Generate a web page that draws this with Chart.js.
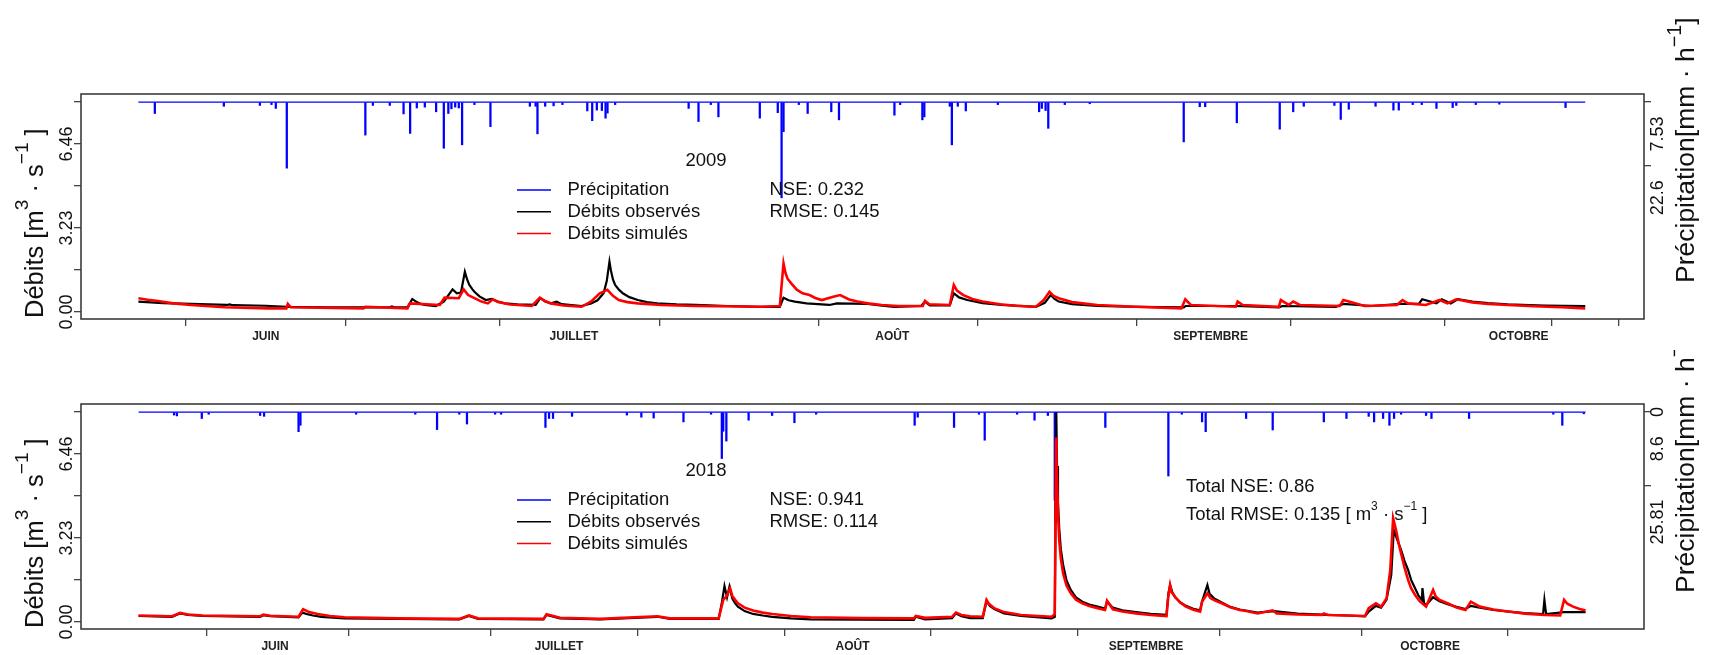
<!DOCTYPE html>
<html>
<head>
<meta charset="utf-8">
<script src="https://cdn.jsdelivr.net/npm/chart.js@4.4.1/dist/chart.umd.min.js"></script>
<style>
  html, body { margin: 0; padding: 0; background: #fff; }
  body { width: 1712px; height: 655px; position: relative; overflow: hidden; }
  canvas { position: absolute; left: 0; }
  #c2009 { top: 0; z-index: 2; }
  #c2018 { top: 350px; z-index: 1; }
</style>
</head>
<body>
<canvas id="c2009" width="1712" height="345"></canvas>
<canvas id="c2018" width="1712" height="305"></canvas>
<script>
// ---- x axis: day of year, month starts labelled, mid-month ticks unlabelled ----
const monthDays   = [152, 182, 213, 244, 274];
const monthLabels = ['JUIN', 'JUILLET', 'AOÛT', 'SEPTEMBRE', 'OCTOBRE'];
const xTicks2009  = [152, 167.6, 182, 198.6, 213, 229.6, 244, 259.5, 274, 280.48];
const xTicks2018  = [137.58, 152, 167.6, 182, 198.6, 213, 229.6, 244, 259.5, 274, 290.43];

// ---- discharge axis (m3/s) ----
const qTicks  = [0, 1.615, 3.23, 4.845, 6.46, 8.075];
const qLabels = [0, 3.23, 6.46];

// ---- precipitation axis (mm/h, reversed) ----
const pTicks2009  = [0, 15.06];
const pLabels2009 = [7.53, 22.6];
const pTicks2018  = [0, 17.2];
const pLabels2018 = [0, 8.6, 25.81];

// ---- scores ----
const stats2009 = { nse: 0.232, rmse: 0.145 };
const stats2018 = { nse: 0.941, rmse: 0.114 };
const statsTotal = { nse: 0.86, rmse: 0.135 };

// ---- 2009 series: [day of year, value] ----
const precip2009 = [
  [141.19,2.7],[147.91,1.0],[151.42,0.8],[152.55,0.6],[152.97,1.5],[154.04,15.6],[161.69,7.8],[162.42,0.8],
  [164.07,0.8],[165.41,2.8],[166.05,7.4],[166.70,1.4],[167.48,1.2],[168.58,2.3],[169.33,10.9],[169.77,2.7],
  [170.07,1.6],[170.44,1.2],[170.79,1.4],[171.11,10.1],[172.31,0.6],[173.87,5.8],[177.71,1.0],[178.27,1.0],
  [178.45,7.5],[179.20,1.0],[180.02,0.9],[180.88,0.6],[183.30,2.1],[183.78,4.4],[184.23,1.9],[184.72,2.0],
  [185.08,3.8],[185.27,2.6],[186.01,0.6],[193.17,1.5],[194.13,4.6],[195.33,0.6],[196.07,3.5],[200.10,3.8],
  [201.85,2.5],[202.22,22.6],[202.41,7.0],[203.90,0.6],[204.76,2.7],[207.06,2.3],[207.81,4.2],[213.21,3.1],
  [213.77,0.6],[215.93,4.2],[216.12,3.5],[218.60,1.0],[218.80,10.1],[219.38,1.0],[220.16,2.1],[223.28,0.6],
  [227.30,2.3],[227.56,1.5],[227.93,2.0],[228.19,6.2],[229.80,0.6],[232.23,0.4],[241.38,9.4],[242.94,1.1],
  [243.47,1.1],[246.55,4.9],[250.73,6.4],[252.04,2.3],[253.07,1.0],[256.05,0.8],[256.67,4.1],[257.45,1.7],
  [260.06,1.0],[261.80,1.9],[262.32,1.9],[263.68,0.6],[264.56,0.6],[265.99,1.5],[267.57,1.3],[267.92,0.8],
  [269.82,0.6],[272.11,0.5],[278.56,1.3]
];
const obs2009 = [
  [139.59,0.40],[142.0,0.34],[144.7,0.31],[148.2,0.27],[148.46,0.29],[148.8,0.26],[152.0,0.24],[154.04,0.20],
  [158.0,0.18],[164.07,0.18],[164.27,0.21],[164.5,0.18],[165.79,0.18],[166.26,0.50],[166.7,0.38],[167.1,0.31],
  [167.48,0.27],[168.55,0.23],[169.33,0.40],[170.18,0.87],[170.60,0.72],[171.0,0.75],[171.38,1.55],[171.6,1.25],
  [171.8,1.05],[172.1,0.88],[172.31,0.78],[172.8,0.60],[173.42,0.46],[173.99,0.50],[174.6,0.40],[175.27,0.33],
  [176.5,0.29],[178.27,0.27],[178.72,0.53],[179.2,0.40],[179.75,0.33],[180.32,0.40],[180.8,0.30],[182.74,0.23],
  [183.68,0.33],[184.3,0.45],[184.89,0.72],[185.2,1.20],[185.46,1.94],[185.6,1.60],[185.8,1.25],[186.01,1.04],
  [186.4,0.85],[186.76,0.72],[187.4,0.57],[188.22,0.46],[189.1,0.38],[190.11,0.33],[192.0,0.29],[193.84,0.27],
  [197.0,0.23],[200.17,0.20],[202.05,0.20],[202.41,0.55],[202.9,0.45],[203.51,0.40],[204.65,0.33],[206.88,0.27],
  [207.60,0.33],[210.61,0.31],[212.0,0.24],[213.21,0.20],[215.82,0.23],[216.17,0.40],[216.65,0.25],[218.60,0.25],
  [218.99,0.72],[219.5,0.56],[220.30,0.46],[221.8,0.34],[223.65,0.27],[226.98,0.20],[227.85,0.35],[228.42,0.65],
  [228.8,0.50],[229.21,0.40],[230.5,0.30],[232.96,0.23],[237.0,0.20],[241.38,0.18],[241.56,0.23],[246.45,0.23],
  [250.64,0.18],[250.99,0.23],[256.19,0.20],[256.92,0.31],[259.69,0.23],[262.51,0.31],[264.27,0.31],[264.60,0.49],
  [265.99,0.33],[266.51,0.49],[267.38,0.33],[268.06,0.49],[269.49,0.40],[271.0,0.34],[272.93,0.29],[276.5,0.25],
  [280.48,0.23]
];
const sim2009 = [
  [139.59,0.53],[140.5,0.47],[141.5,0.42],[143.0,0.33],[144.70,0.27],[148.0,0.18],[152.19,0.14],[154.0,0.14],
  [154.14,0.31],[154.43,0.18],[161.50,0.14],[161.69,0.20],[165.79,0.14],[166.02,0.33],[168.94,0.27],[169.40,0.55],
  [170.79,0.53],[171.26,0.87],[171.7,0.65],[172.31,0.53],[173.0,0.40],[173.62,0.33],[174.10,0.49],[174.6,0.38],
  [175.8,0.29],[177.90,0.23],[178.68,0.55],[179.2,0.42],[179.75,0.33],[181.0,0.25],[182.74,0.20],[183.65,0.40],
  [184.52,0.72],[185.26,0.85],[185.8,0.62],[186.37,0.46],[187.2,0.38],[188.22,0.33],[190.5,0.27],[193.84,0.23],
  [200.17,0.20],[202.05,0.23],[202.41,1.87],[202.6,1.50],[202.8,1.28],[203.16,1.10],[203.7,0.86],[204.27,0.72],
  [204.94,0.65],[205.5,0.54],[206.14,0.46],[207.25,0.59],[207.92,0.65],[208.8,0.48],[209.6,0.40],[210.61,0.33],
  [212.0,0.27],[213.58,0.23],[215.97,0.23],[216.19,0.43],[216.6,0.30],[218.60,0.27],[218.99,1.04],[219.3,0.82],
  [219.92,0.65],[220.8,0.50],[221.78,0.40],[223.5,0.30],[225.0,0.24],[226.98,0.20],[227.75,0.46],[228.31,0.78],
  [228.7,0.62],[229.21,0.53],[230.5,0.38],[232.96,0.27],[236.69,0.20],[241.16,0.14],[241.53,0.49],[242.07,0.27],
  [246.45,0.20],[246.63,0.40],[247.13,0.27],[250.64,0.20],[250.83,0.46],[251.61,0.27],[252.04,0.40],[252.69,0.27],
  [256.58,0.23],[256.92,0.46],[257.46,0.40],[259.01,0.23],[262.13,0.27],[262.68,0.46],[263.20,0.33],[264.95,0.27],
  [266.32,0.46],[267.05,0.33],[267.92,0.49],[269.49,0.37],[271.0,0.31],[272.93,0.27],[275.5,0.22],[278.19,0.18],
  [280.48,0.14]
];

// ---- 2018 series: [day of year, value] ----
const precip2018 = [
  [141.33,0.7],[141.63,0.9],[144.26,1.5],[144.99,0.5],[150.42,0.8],[150.84,1.0],[154.48,4.6],[154.68,3.1],
  [160.56,0.5],[166.81,0.5],[169.11,4.1],[171.46,0.5],[172.27,2.8],[175.24,0.5],[175.87,0.5],[180.56,3.6],
  [180.94,1.5],[181.36,1.5],[183.37,1.0],[189.16,0.7],[190.69,1.2],[191.99,1.4],[195.14,2.3],[198.05,0.5],
  [199.19,10.9],[199.34,4.5],[199.67,6.8],[202.02,1.9],[204.50,0.8],[206.86,2.5],[209.15,0.5],[219.56,3.1],
  [219.88,1.2],[223.72,3.6],[226.35,0.5],[226.96,6.6],[230.38,0.5],[232.22,1.9],[233.63,0.8],[234.36,20.7],
  [234.43,25.81],[239.70,3.6],[246.36,15.0],[247.78,0.5],[249.92,2.3],[250.30,4.6],[254.57,1.5],[257.38,4.2],
  [262.78,2.3],[265.17,1.5],[267.52,1.0],[268.09,2.3],[269.04,1.5],[269.71,3.1],[270.20,1.5],[270.94,0.5],
  [273.58,0.8],[274.15,1.5],[278.12,1.5],[287.02,0.5],[287.97,3.1],[290.24,0.4]
];
const obs2018 = [
  [137.58,0.23],[141.12,0.20],[141.5,0.26],[141.97,0.33],[142.8,0.27],[144.37,0.23],[150.42,0.20],[150.76,0.26],
  [151.5,0.22],[154.48,0.18],[154.88,0.36],[155.4,0.30],[156.0,0.25],[156.91,0.20],[159.33,0.14],[165.0,0.12],
  [171.46,0.10],[172.47,0.23],[173.44,0.12],[180.35,0.10],[180.68,0.27],[182.10,0.14],[186.33,0.10],[192.39,0.20],
  [193.72,0.12],[198.86,0.12],[199.22,0.80],[199.47,1.38],[199.74,0.95],[200.00,1.36],[200.3,0.90],[200.6,0.72],
  [200.89,0.59],[201.6,0.42],[202.49,0.31],[203.5,0.25],[204.52,0.20],[206.5,0.14],[208.57,0.10],[214.0,0.09],
  [219.48,0.08],[219.68,0.20],[220.66,0.10],[223.51,0.15],[223.92,0.33],[224.5,0.22],[225.41,0.15],[226.75,0.15],
  [227.15,0.80],[227.5,0.62],[227.97,0.50],[229.0,0.33],[230.80,0.23],[234.03,0.14],[234.36,0.20],[234.52,8.07],
  [234.6,6.00],[234.7,4.60],[234.83,3.60],[235.0,2.80],[235.24,2.20],[235.6,1.60],[236.05,1.23],[236.6,0.95],
  [237.27,0.78],[238.0,0.67],[238.88,0.59],[239.67,0.52],[239.88,0.78],[240.50,0.55],[241.5,0.45],[242.93,0.38],
  [244.5,0.31],[246.16,0.27],[246.36,1.10],[246.54,1.42],[246.8,1.12],[247.07,0.95],[247.6,0.76],[248.21,0.62],
  [249.0,0.51],[249.71,0.45],[249.92,0.80],[250.48,1.42],[250.7,1.10],[251.2,0.90],[252.00,0.75],[252.9,0.58],
  [253.89,0.48],[255.78,0.36],[257.50,0.42],[260.0,0.32],[262.59,0.28],[265.23,0.25],[267.13,0.22],[267.52,0.40],
  [268.28,0.62],[268.83,0.55],[269.4,0.85],[269.9,1.80],[270.17,3.54],[270.5,3.20],[270.94,2.77],[271.3,2.35],
  [271.68,2.00],[272.0,1.62],[272.42,1.30],[272.8,1.00],[273.13,0.85],[273.20,1.30],[273.37,0.72],[273.58,0.65],
  [274.32,0.95],[275.0,0.80],[275.85,0.68],[276.8,0.58],[277.74,0.50],[278.31,0.62],[279.25,0.55],[280.7,0.46],
  [282.28,0.40],[284.0,0.34],[285.94,0.30],[286.08,0.85],[286.26,0.30],[288.16,0.38],[290.43,0.38]
];
const sim2018 = [
  [137.58,0.25],[141.12,0.22],[141.5,0.28],[141.97,0.35],[142.8,0.29],[144.37,0.25],[150.42,0.22],[150.76,0.28],
  [151.5,0.24],[154.48,0.20],[154.96,0.49],[155.6,0.38],[156.50,0.31],[157.8,0.23],[159.33,0.18],[165.0,0.14],
  [171.46,0.12],[172.47,0.25],[173.44,0.14],[180.35,0.12],[180.68,0.30],[182.10,0.16],[186.33,0.12],[192.39,0.22],
  [193.72,0.14],[198.86,0.14],[199.34,0.85],[199.7,1.00],[200.06,1.30],[200.3,1.00],[200.6,0.85],[200.89,0.72],
  [201.6,0.55],[202.49,0.44],[203.5,0.36],[204.52,0.31],[206.5,0.23],[208.57,0.18],[214.0,0.15],[219.48,0.14],
  [219.68,0.23],[220.66,0.16],[223.51,0.20],[223.92,0.36],[224.5,0.27],[225.41,0.22],[226.75,0.20],[227.15,0.85],
  [227.4,0.70],[227.97,0.53],[229.0,0.38],[230.80,0.27],[234.03,0.20],[234.36,0.30],[234.50,7.10],[234.55,6.30],
  [234.63,5.08],[234.72,4.00],[234.83,3.15],[235.0,2.45],[235.24,1.87],[235.6,1.40],[236.05,1.10],[236.6,0.86],
  [237.27,0.72],[238.0,0.61],[238.88,0.53],[239.67,0.46],[239.88,0.82],[240.50,0.49],[241.5,0.40],[242.93,0.33],
  [244.5,0.27],[246.16,0.23],[246.36,1.00],[246.54,1.42],[246.7,1.15],[247.07,0.97],[247.6,0.75],[248.21,0.59],
  [249.0,0.47],[249.71,0.40],[249.92,0.78],[250.48,1.10],[250.8,0.92],[251.3,0.82],[252.00,0.72],[252.9,0.57],
  [253.89,0.46],[254.57,0.42],[255.78,0.33],[257.38,0.45],[257.8,0.33],[260.0,0.29],[262.59,0.27],[262.78,0.33],
  [263.2,0.27],[265.23,0.25],[267.13,0.23],[267.52,0.53],[268.28,0.72],[268.83,0.59],[269.4,0.90],[269.8,2.00],
  [270.10,3.99],[270.3,3.70],[270.48,3.41],[270.7,3.00],[270.94,2.64],[271.3,2.10],[271.68,1.62],[272.0,1.30],
  [272.42,1.04],[272.9,0.80],[273.58,0.59],[274.32,1.23],[274.6,0.98],[275.0,0.85],[275.85,0.72],[276.8,0.56],
  [277.74,0.46],[278.31,0.78],[279.25,0.59],[280.7,0.48],[282.28,0.40],[284.0,0.32],[286.08,0.27],[287.74,0.25],
  [288.16,0.85],[288.5,0.70],[289.11,0.59],[289.8,0.50],[290.43,0.44]
];

// ---- drawing helpers ----
const FONT = '"Liberation Sans", Arial, Helvetica, sans-serif';
const INK = '#111';

// text with raised superscript pieces: parts = [[text, isSup], ...]
function drawRich(ctx, parts, x, y, size, angle, supScale, supRise) {
  ctx.save();
  ctx.translate(x, y);
  ctx.rotate(angle);
  ctx.textAlign = 'left';
  ctx.textBaseline = 'alphabetic';
  let cx = 0;
  for (const [t, sup] of parts) {
    const s = sup ? size * supScale : size;
    ctx.font = s + 'px ' + FONT;
    ctx.fillText(t, cx, sup ? -size * supRise : 0);
    cx += ctx.measureText(t).width;
  }
  ctx.restore();
}

function drawRotated(ctx, text, x, y, font) {
  ctx.save();
  ctx.translate(x, y);
  ctx.rotate(-Math.PI / 2);
  ctx.font = font;
  ctx.textAlign = 'center';
  ctx.textBaseline = 'alphabetic';
  ctx.fillText(text, 0, 0);
  ctx.restore();
}

const qTitle = [['Débits [m', false], ['3', true], [' · s', false], ['−1', true], [' ]', false]];
const pTitle = [['Précipitation[mm · h', false], ['−1', true], [']', false]];

// frame, rotated axis labels, legend and score annotations
const panelDecor = {
  id: 'panelDecor',
  afterDraw(chart, args, o) {
    const ctx = chart.ctx;
    const a = chart.chartArea;
    const yQ = chart.scales.yQ, yP = chart.scales.yP;
    ctx.save();
    // plot frame
    ctx.strokeStyle = '#3c3c3c';
    ctx.lineWidth = 1.6;
    ctx.strokeRect(a.left, a.top, a.right - a.left, a.bottom - a.top);

    ctx.fillStyle = INK;
    const tickFont = '18px ' + FONT;
    for (const v of o.qLabels) drawRotated(ctx, v.toFixed(2), a.left - 9, yQ.getPixelForValue(v), tickFont);
    for (const v of o.pLabels) drawRotated(ctx, String(v), a.right + 19, yP.getPixelForValue(v), tickFont);

    // axis titles
    drawRich(ctx, qTitle, 43, a.bottom - 1, 25.5, -Math.PI / 2, 0.75, 0.6);
    drawRich(ctx, pTitle, a.right + 50, a.bottom - 36, 26.5, -Math.PI / 2, 0.75, 0.5);

    // year
    ctx.font = '18.5px ' + FONT;
    ctx.textBaseline = 'middle';
    ctx.textAlign = 'center';
    ctx.fillText(o.year, a.left + 625, a.top + 67);

    // legend built from the dataset labels and colours
    ctx.textAlign = 'left';
    const items = chart.data.datasets.filter(d => d.label);
    items.forEach((d, i) => {
      const y = a.top + 96 + i * 21.8;
      ctx.strokeStyle = d.legendColor;
      ctx.lineWidth = 1.5;
      ctx.beginPath();
      ctx.moveTo(a.left + 436, y);
      ctx.lineTo(a.left + 470, y);
      ctx.stroke();
      ctx.fillStyle = INK;
      ctx.fillText(d.label, a.left + 486.5, y);
    });

    // scores
    ctx.fillText('NSE: ' + o.stats.nse, a.left + 688.5, a.top + 96);
    ctx.fillText('RMSE: ' + o.stats.rmse, a.left + 688.5, a.top + 96 + 21.8);

    if (o.total) {
      ctx.fillText('Total NSE: ' + o.total.nse, a.left + 1105, a.top + 83);
      drawRich(ctx, [['Total RMSE: ' + o.total.rmse + ' [ m', false], ['3', true], [' · s', false], ['−1', true], [' ]', false]],
        a.left + 1105, a.top + 115.5, 18.5, 0, 0.65, 0.5);
    }
    ctx.restore();
  }
};

function makePanel(id, cfg) {
  const start = cfg.obs[0][0], end = cfg.obs[cfg.obs.length - 1][0];
  const pts = arr => arr.map(([x, y]) => ({ x, y }));
  const axisTickFont = { family: FONT, size: 12, weight: 'bold' };
  return new Chart(document.getElementById(id), {
    type: 'line',
    data: {
      datasets: [
        { type: 'bar', label: 'Précipitation', legendColor: '#0000ff', data: pts(cfg.precip), yAxisID: 'yP',
          backgroundColor: '#0000ff', borderWidth: 0, barThickness: 1.6, order: 3 },
        { type: 'line', data: [{ x: start, y: 0 }, { x: end, y: 0 }], yAxisID: 'yP',
          borderColor: '#0000ff', borderWidth: 1.2, pointRadius: 0, order: 3 },
        { type: 'line', label: 'Débits observés', legendColor: '#000000', data: pts(cfg.obs), yAxisID: 'yQ',
          borderColor: '#000000', borderWidth: 2.2, pointRadius: 0, tension: 0, order: 2 },
        { type: 'line', label: 'Débits simulés', legendColor: '#ff0000', data: pts(cfg.sim), yAxisID: 'yQ',
          borderColor: '#ff0000', borderWidth: 2.6, pointRadius: 0, tension: 0, order: 1 }
      ]
    },
    options: {
      responsive: false,
      animation: false,
      devicePixelRatio: 1,
      events: [],
      layout: { padding: { top: cfg.padTop, left: 0, right: 0, bottom: 0 } },
      plugins: {
        legend: { display: false },
        tooltip: { enabled: false },
        panelDecor: { qLabels, pLabels: cfg.pLabels, year: cfg.year, stats: cfg.stats, total: cfg.total }
      },
      scales: {
        x: {
          type: 'linear', min: cfg.xMin, max: cfg.xMax, offset: false,
          afterBuildTicks: s => { s.ticks = cfg.xTicks.map(v => ({ value: v })); },
          afterFit: s => { s.height = 26; },
          ticks: {
            autoSkip: false, maxRotation: 0, minRotation: 0, padding: 3,
            font: axisTickFont, color: '#222',
            callback: v => { const i = monthDays.indexOf(v); return i >= 0 ? monthLabels[i] : ''; }
          },
          grid: { drawOnChartArea: false, drawTicks: true, tickLength: 7, color: '#444', lineWidth: 1.3 },
          border: { display: false }
        },
        yQ: {
          type: 'linear', position: 'left', min: -0.27, max: 8.385,
          afterBuildTicks: s => { s.ticks = qTicks.map(v => ({ value: v })); },
          afterFit: s => { s.width = 81; },
          ticks: { display: false },
          grid: { drawOnChartArea: false, drawTicks: true, tickLength: 7, color: '#444', lineWidth: 1.3 },
          border: { display: false }
        },
        yP: {
          type: 'linear', position: 'right', reverse: true, min: cfg.pMin, max: cfg.pMax,
          afterBuildTicks: s => { s.ticks = cfg.pTicks.map(v => ({ value: v })); },
          afterFit: s => { s.width = 68; },
          ticks: { display: false },
          grid: { drawOnChartArea: false, drawTicks: true, tickLength: 7, color: '#444', lineWidth: 1.3 },
          border: { display: false }
        }
      }
    },
    plugins: [panelDecor]
  });
}

makePanel('c2009', {
  year: '2009', precip: precip2009, obs: obs2009, sim: sim2009,
  xMin: 134.0, xMax: 286.2, xTicks: xTicks2009,
  pMin: -1.9, pMax: 51.2, pTicks: pTicks2009, pLabels: pLabels2009,
  stats: stats2009, total: null, padTop: 94
});
makePanel('c2018', {
  year: '2018', precip: precip2018, obs: obs2018, sim: sim2018,
  xMin: 131.5, xMax: 296.6, xTicks: xTicks2018,
  pMin: -1.9, pMax: 50.9, pTicks: pTicks2018, pLabels: pLabels2018,
  stats: stats2018, total: statsTotal, padTop: 54
});
</script>
</body>
</html>
